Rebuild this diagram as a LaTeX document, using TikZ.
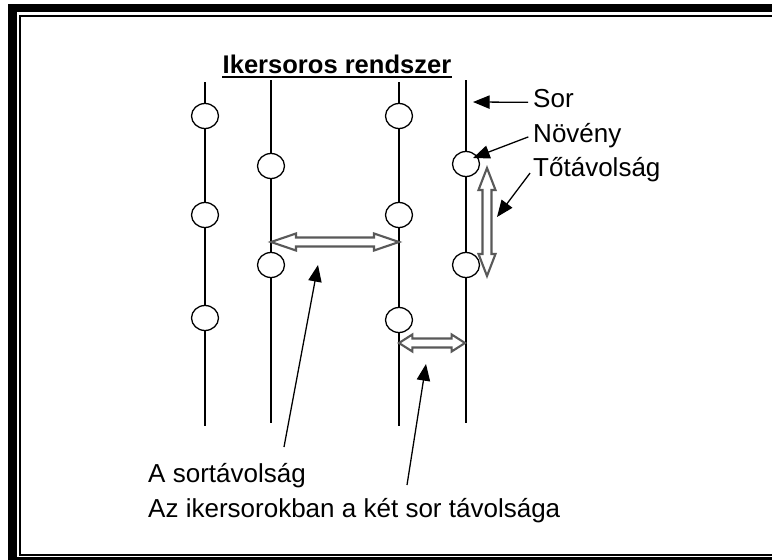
\documentclass[tikz,border=0pt]{standalone}
\usepackage{fontspec}
\setmainfont{Liberation Sans}
\usepackage{tikz}
\usetikzlibrary{arrows.meta,calc,shapes.geometric}

% hollow double-headed arrow between two coordinates: #3 head length, #4 half head width
\newcommand\ketnyil[4]{%
	\coordinate (p) at ($(#1)!#3!(#2)$);
	\coordinate (q) at ($(#2)!#3!(#1)$);
	\filldraw[ureges] (#1) -- ($(p)!#4!90:(#2)$) -- ($(p)!0.135cm!90:(#2)$)
		-- ($(q)!0.135cm!-90:(#1)$) -- ($(q)!#4!-90:(#1)$) -- (#2)
		-- ($(q)!#4!90:(#1)$) -- ($(q)!0.135cm!90:(#1)$)
		-- ($(p)!0.135cm!-90:(#2)$) -- ($(p)!#4!-90:(#2)$) -- cycle;
}

\begin{document}
\begin{tikzpicture}[x=0.03cm,y=-0.03cm,
	sor/.style={line width=1.3pt},
	noveny/.style={ellipse,draw,fill=white,line width=1.1pt,minimum width=0.81cm,minimum height=0.75cm,inner sep=0},
	felirat/.style={inner sep=0,font=\fontsize{22.2}{26}\selectfont},
	mutato/.style={line width=1.1pt,shorten <=0.15cm,-{Triangle[length=0.5cm,width=0.4cm]}},
	ureges/.style={draw=gray!70!black,fill=white,line width=1.8pt,line join=miter}]
	\useasboundingbox (0,0) rectangle (772,560);
	
	% frame
	\fill (8,4) rectangle (772,12);
	\fill (8,4) rectangle (17,560);
	\fill (8,557) rectangle (772,560);
	\fill (19,15) rectangle (772,17);
	\fill (19,15) rectangle (21,556);
	\fill (19,554) rectangle (772,556);
	
	\node[font=\bfseries\fontsize{21.8}{25}\selectfont,inner sep=0,anchor=base] (cim) at (337,73) {Ikersoros rendszer};
	\draw[line width=1.7pt] ([yshift=-0.12cm]cim.south west) -- ([yshift=-0.12cm]cim.south east);
	
	% rows and plants
	\foreach \n/\x/\f/\a in {a/205/82/426,b/271/80/423,c/399/82/426,d/466/80/423}{
		\coordinate (\n1) at (\x,\f);
		\coordinate (\n2) at (\x,\a);
		\draw[sor] (\n1) -- (\n2);
	}
	\foreach \x/\y [count=\i] in {205/116,205/215,205/318,271/166,271/265,399/116,399/215,399/320,466/164,466/265}
		\node[noveny] (n\i) at (\x,\y) {};
	
	% distances
	\coordinate (h1) at (271,242);
	\coordinate (h2) at (399,242);
	\coordinate (h3) at (399,343);
	\coordinate (h4) at (465,343);
	\coordinate (v1) at (487,168);
	\coordinate (v2) at (487,276);
	\ketnyil{h1}{h2}{0.75cm}{0.255cm}
	\ketnyil{h3}{h4}{0.4cm}{0.255cm}
	\ketnyil{v1}{v2}{0.66cm}{0.255cm}
	
	% labels
	\node[felirat,anchor=base west] (sorcim) at (533,107) {Sor};
	\node[felirat,anchor=base west] (novcim) at (533,142) {Növény};
	\node[felirat,anchor=base west] (totav) at (533,176) {Tőtávolság};
	\node[felirat,anchor=base west] (sortav) at (148,482) {A sortávolság};
	\node[felirat,anchor=base west] (ikertav) at (148,517) {Az ikersorokban a két sor távolsága};
	
	\coordinate (sorhegy) at (473,102);
	\coordinate (novhegy) at (473,158);
	\coordinate (tohegy) at (497,217);
	\coordinate (s1) at (284,447);
	\coordinate (s2) at (318,265);
	\coordinate (i1) at (407,485);
	\coordinate (i2) at (426,364);
	\draw[mutato] ([yshift=0.14cm]sorcim.base west) -- (sorhegy);
	\draw[mutato] (novcim.west) -- (novhegy);
	\draw[mutato] (totav.west) -- (tohegy);
	\draw[mutato,shorten <=0pt] (s1) -- (s2);
	\draw[mutato,shorten <=0pt] (i1) -- (i2);
\end{tikzpicture}
\end{document}
